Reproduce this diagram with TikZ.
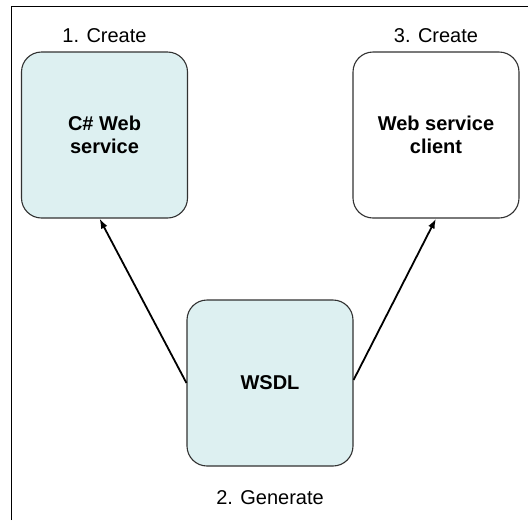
\documentclass[tikz,border=0pt]{standalone}
\usepackage{fontspec}
\setmainfont{Liberation Sans}
\usetikzlibrary{arrows.meta}
\definecolor{boxfill}{RGB}{221,240,241}
\definecolor{boxline}{RGB}{50,50,50}
\tikzset{
    bigbox/.style={draw=boxline, line width=1.1pt, rounded corners=20pt, minimum width=166pt, minimum height=166pt, align=center, font=\fontsize{20}{23}\selectfont\bfseries},
    steplabel/.style={anchor=base, font=\fontsize{20}{23}\selectfont},
    link/.style={-{Latex[length=10pt,width=7pt]}, line width=1.8pt}
}
\begin{document}
\begin{tikzpicture}[x=1pt, y=-1pt]
    \useasboundingbox (0,0) rectangle (528,520);
    % Cornice
    \draw[line width=1.6pt] (11.5,520) -- (11.5,6.5) -- (528,6.5);

    % Riquadri
    \node[bigbox, fill=boxfill] (csharp) at (104.5,135) {C\# Web\\service};
    \node[bigbox, fill=white] (client) at (436,135) {Web service\\client};
    \node[bigbox, fill=boxfill] (wsdl) at (270,383) {WSDL};

    % Passi
    \node[steplabel] (create1) at (104.5,42) {1. Create};
    \node[steplabel] (create3) at (436,42) {3. Create};
    \node[steplabel] (generate) at (270,504) {2. Generate};

    % Frecce
    \draw[link] (wsdl.west) -- ([xshift=-5pt]csharp.south);
    \draw[link] ([yshift=3pt]wsdl.east) -- (client.south);
\end{tikzpicture}
\end{document}
